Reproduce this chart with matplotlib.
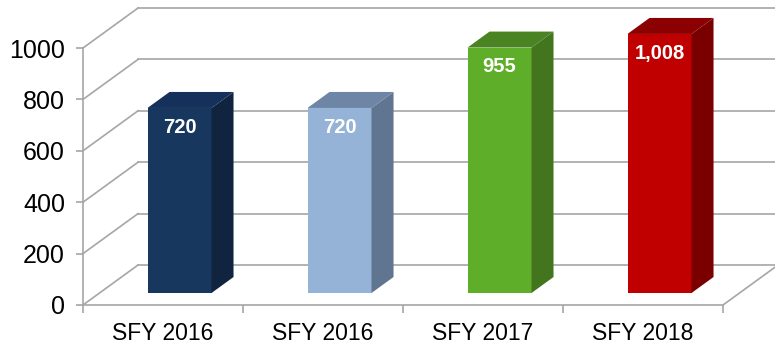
import numpy as np
import matplotlib.pyplot as plt
from matplotlib.patches import Polygon

plt.rcParams['font.family'] = ['Liberation Sans', 'DejaVu Sans']

categories = ['SFY 2016', 'SFY 2016', 'SFY 2017', 'SFY 2018']
values = [720, 720, 955, 1008]
labels = ['720', '720', '955', '1,008']
front_colors = ['#17375e', '#95b3d7', '#5fae29', '#c00000']
side_colors = ['#10243f', '#607590', '#42751d', '#7a0000']
top_colors = ['#15305a', '#6e85a5', '#4a8422', '#8b0000']
yticks = [0, 200, 400, 600, 800, 1000]

grid = '#a6a6a6'
# depth of the box (in data units) and where the bars sit within it
dx, dy = 0.344, 155.6
f0, g = 0.3, 0.4
w = 0.4

fig = plt.figure(figsize=(7.75, 3.48), dpi=100)
ax = fig.add_axes([83 / 775, 43 / 348, 640 / 775, 257 / 348])
ax.set_xlim(-0.5, 3.5)
ax.set_ylim(0, 1000)
ax.patch.set_visible(False)

# back wall gridlines and left-side diagonals
for v in yticks:
    ax.plot([-0.5 + dx, 3.5 + dx], [v + dy, v + dy], color=grid, lw=1.2, clip_on=False, zorder=1)
    ax.plot([-0.5, -0.5 + dx], [v, v + dy], color=grid, lw=1.2, clip_on=False, zorder=1)
# right edge of the floor
ax.plot([3.5, 3.5 + dx], [0, dy], color=grid, lw=1.2, clip_on=False, zorder=1)

for i, (v, lab) in enumerate(zip(values, labels)):
    x0 = i - w / 2 + f0 * dx
    x1 = x0 + w
    y0 = f0 * dy
    y1 = y0 + v
    ddx, ddy = g * dx, g * dy
    front = Polygon([(x0, y0), (x1, y0), (x1, y1), (x0, y1)], closed=True,
                    fc=front_colors[i], ec='none', clip_on=False, zorder=3)
    side = Polygon([(x1, y0), (x1 + ddx, y0 + ddy), (x1 + ddx, y1 + ddy), (x1, y1)], closed=True,
                   fc=side_colors[i], ec='none', clip_on=False, zorder=3)
    top = Polygon([(x0, y1), (x1, y1), (x1 + ddx, y1 + ddy), (x0 + ddx, y1 + ddy)], closed=True,
                  fc=top_colors[i], ec='none', clip_on=False, zorder=3)
    for p in (front, side, top):
        ax.add_patch(p)
    ax.annotate(lab, xy=((x0 + x1) / 2, y1), xytext=(0, -7), textcoords='offset points',
                ha='center', va='top', color='white', fontsize=14.5, fontweight='bold',
                zorder=4, annotation_clip=False)

for s in ['top', 'right']:
    ax.spines[s].set_visible(False)
for s in ['left', 'bottom']:
    ax.spines[s].set_color(grid)
    ax.spines[s].set_linewidth(1.2)

ax.set_yticks(yticks)
ax.set_yticklabels([str(t) for t in yticks], fontsize=18)
ax.tick_params(axis='y', color=grid, length=5, width=1.2, pad=8)

ax.set_xticks(np.arange(-0.5, 4, 1))
ax.set_xticklabels([])
ax.set_xticks(np.arange(len(categories)), minor=True)
ax.set_xticklabels(categories, minor=True, fontsize=16.5)
ax.tick_params(axis='x', which='major', color=grid, length=6, width=1.2)
ax.tick_params(axis='x', which='minor', length=0, pad=12)

fig.savefig('out.png', dpi=100)
